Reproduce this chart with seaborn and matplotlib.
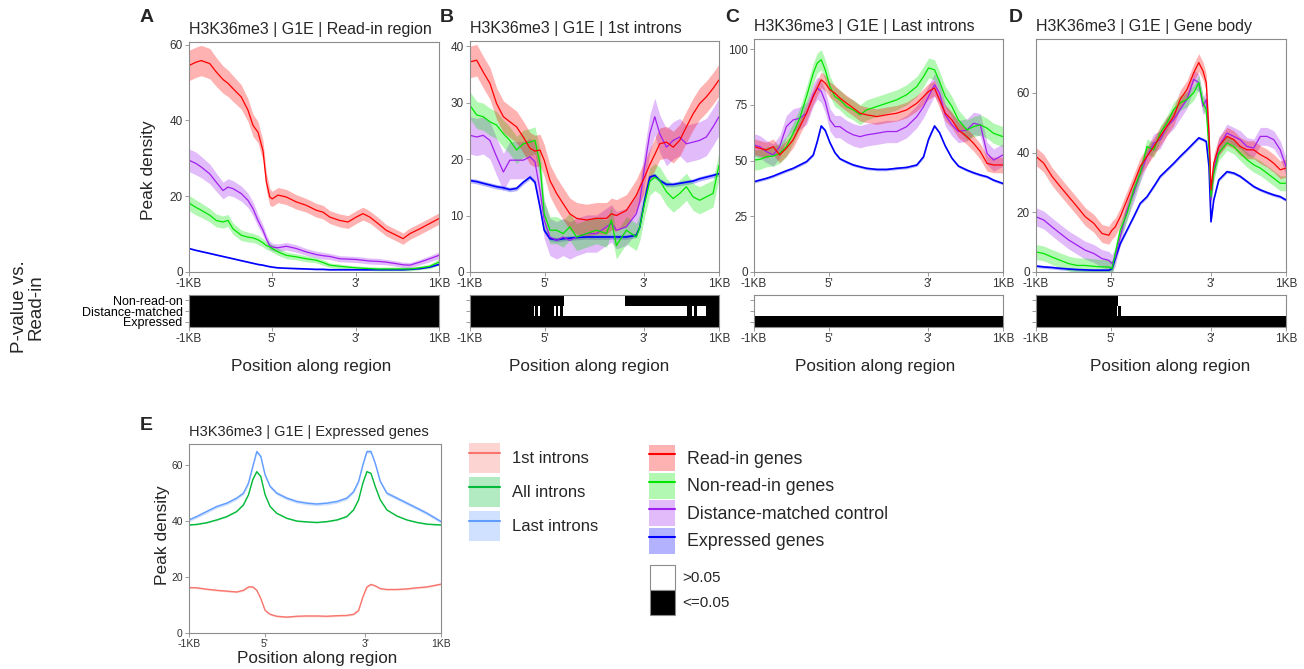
import numpy as np
import pandas as pd
import matplotlib
matplotlib.use('Agg')
import matplotlib.pyplot as plt
import seaborn as sns
from matplotlib.patches import Patch
from matplotlib.lines import Line2D
from matplotlib.legend_handler import HandlerTuple

sns.set_theme(style='white')
plt.rcParams['font.family'] = ['Liberation Sans', 'DejaVu Sans']

# ---- data (x = position along region, 0..100) ----
groups = ['Expressed genes', 'Distance-matched control', 'Non-read-in genes', 'Read-in genes']
group_colors = {'Read-in genes': '#FF0000', 'Non-read-in genes': '#00E600',
                'Distance-matched control': '#A020F0', 'Expressed genes': '#0000FF'}
intron_groups = ['1st introns', 'All introns', 'Last introns']
intron_colors = {'1st introns': '#F8766D', 'All introns': '#00BA38', 'Last introns': '#619CFF'}
tick_labels = ['-1KB', "5'", "3'", '1KB']

# A: read-in region
A_pos = [0, 2.9, 4.9, 8.3, 10.9, 13.6, 15.6, 17.6, 20.9, 23.6, 25.6, 27.6, 29.6, 30.9, 32.3, 33.3, 35.6, 38.9,
         42.9, 46.9, 50.9, 53.6, 56.3, 60.3, 63.6, 66.9, 69.6, 72.3, 75.6, 78.9, 82.9, 85.6, 88.3, 92.3, 96.3, 100]
A_read_in = [54.5, 55.4, 55.8, 55.0, 52.8, 50.8, 49.8, 48.4, 46.2, 42.7, 38.7, 36.9, 32.0, 24.0, 19.8, 19.3, 20.3, 19.8,
             18.5, 17.6, 16.3, 15.8, 14.5, 13.6, 13.2, 14.5, 15.4, 14.5, 12.8, 11.0, 9.7, 8.8, 10.1, 11.4, 12.8, 14.1]
A_non_read_in = [18.2, 17.0, 16.3, 15.0, 13.6, 13.2, 13.6, 11.4, 9.7, 9.2, 9.0, 8.5, 7.7, 7.0, 6.6, 6.2, 5.3, 4.4,
                 4.0, 3.5, 3.1, 2.5, 1.8, 1.5, 1.3, 1.1, 1.0, 0.9, 0.8, 0.8, 0.8, 0.8, 0.8, 1.1, 1.5, 2.6]
A_distance = [29.5, 28.6, 27.7, 25.9, 23.7, 21.5, 22.4, 22.0, 20.7, 18.9, 16.7, 13.6, 11.0, 8.8, 7.0, 6.6, 6.4, 6.8,
              6.2, 5.3, 4.6, 4.3, 4.1, 3.5, 3.4, 3.3, 3.1, 2.9, 2.8, 2.6, 2.2, 1.9, 1.8, 2.6, 3.5, 4.4]
A_expressed = [6.2, 5.7, 5.4, 4.9, 4.5, 4.1, 3.8, 3.5, 3.0, 2.6, 2.3, 2.0, 1.8, 1.6, 1.4, 1.3, 1.1, 1.0,
               0.9, 0.8, 0.7, 0.7, 0.6, 0.6, 0.6, 0.6, 0.6, 0.6, 0.6, 0.6, 0.6, 0.6, 0.7, 0.9, 1.3, 2.0]
A_read_in_band = [4, 4, 4, 4, 3.8, 3.6, 3.5, 3.4, 3.2, 3, 2.9, 2.8, 2.6, 2.4, 2.2, 2, 2, 2,
                  1.9, 1.8, 1.8, 1.8, 1.7, 1.7, 1.7, 1.7, 1.7, 1.6, 1.6, 1.5, 1.5, 1.5, 1.5, 1.5, 1.5, 1.5]
A_non_read_in_band = [2, 2, 1.9, 1.8, 1.7, 1.6, 1.6, 1.5, 1.4, 1.3, 1.2, 1.2, 1.1, 1, 1, 1, 0.9, 0.9,
                      0.8, 0.8, 0.7, 0.7, 0.6, 0.6, 0.5, 0.5, 0.5, 0.5, 0.5, 0.5, 0.5, 0.5, 0.5, 0.5, 0.6, 0.8]
A_distance_band = [3, 3, 2.8, 2.6, 2.4, 2.2, 2.2, 2.1, 2, 1.9, 1.8, 1.6, 1.4, 1.2, 1.1, 1, 1, 1,
                   1, 0.9, 0.9, 0.9, 0.8, 0.8, 0.8, 0.8, 0.8, 0.8, 0.8, 0.7, 0.7, 0.7, 0.7, 0.7, 0.8, 0.9]
A_expressed_band = 0.15

# B: 1st introns
B_pos = [0, 2.7, 5.3, 8.0, 10.7, 13.4, 16.0, 18.7, 21.4, 24.1, 26.1, 28.1, 29.8, 32.1, 34.8, 37.4, 40.1, 42.8, 46.8,
         50.8, 54.8, 56.8, 58.8, 62.8, 66.8, 68.2, 70.1, 72.2, 74.2, 76.2, 78.9, 81.6, 84.2, 86.9, 89.6, 92.2, 94.9, 97.6, 100]
B_read_in = [37.2, 37.5, 35.4, 33.4, 29.8, 27.5, 26.6, 25.7, 23.9, 21.9, 21.4, 21.6, 19.8, 16.2, 13.9, 12.1, 10.3, 9.5, 9.2,
             9.5, 9.5, 10.3, 10.0, 10.9, 13.6, 15.0, 16.8, 19.0, 20.8, 22.7, 23.0, 22.1, 23.3, 25.7, 28.0, 29.8, 31.0, 32.5, 34.0]
B_non_read_in = [29.5, 27.8, 27.5, 26.6, 26.0, 24.5, 23.3, 21.6, 22.7, 23.0, 23.3, 19.2, 10.3, 7.4, 7.4, 6.8, 8.0, 6.2, 6.8,
                 7.4, 6.8, 9.2, 4.7, 7.4, 6.2, 8.0, 12.1, 16.0, 16.8, 16.2, 14.2, 13.0, 13.9, 15.1, 13.3, 12.7, 13.3, 13.9, 18.9]
B_distance = [24.2, 23.9, 24.2, 23.3, 20.4, 17.7, 19.8, 19.8, 19.8, 20.4, 19.5, 14.5, 9.2, 6.2, 5.6, 6.2, 5.6, 6.2, 6.8,
              6.8, 8.0, 8.6, 7.4, 8.0, 10.3, 12.5, 18.6, 24.5, 27.5, 24.5, 22.1, 23.3, 23.9, 22.7, 23.0, 23.3, 23.9, 25.7, 27.5]
B_expressed = [16.2, 16.0, 15.7, 15.4, 15.1, 14.9, 14.6, 14.8, 15.9, 16.8, 15.9, 11.5, 7.4, 5.9, 5.7, 5.9, 6.0, 6.1, 6.2,
               6.2, 6.2, 6.2, 6.2, 6.2, 6.5, 8.0, 12.7, 16.8, 17.1, 16.2, 15.5, 15.5, 15.7, 15.9, 16.1, 16.5, 16.8, 17.1, 17.4]
B_read_in_band = 2.8
B_non_read_in_band = 2.4
B_distance_band = 3.3
B_expressed_band = 0.4

# C: last introns
C_pos = [0, 2.3, 5.0, 7.7, 10.3, 13.0, 15.7, 18.4, 21.1, 23.8, 25.4, 27.0, 28.6, 30.5, 32.5, 34.5, 37.2, 39.9, 42.6,
         45.2, 49.3, 53.3, 57.3, 61.3, 65.4, 68.1, 70.1, 72.5, 74.5, 76.8, 79.5, 82.1, 85.5, 88.2, 90.9, 93.6, 96.2, 100]
C_read_in = [56.2, 55.5, 54.7, 56.2, 52.5, 55.5, 59.2, 65.2, 71.2, 78.7, 82.5, 86.2, 84.7, 81.7, 80.2, 78.0, 75.7, 73.5, 71.2,
             70.5, 69.7, 70.5, 71.2, 72.7, 75.7, 78.7, 81.0, 82.5, 77.2, 71.2, 68.2, 63.7, 60.7, 57.7, 54.0, 48.7, 48.0, 48.0]
C_non_read_in = [50.2, 50.5, 51.7, 52.0, 53.2, 56.2, 62.2, 69.0, 78.7, 89.2, 93.7, 95.2, 90.7, 83.2, 78.7, 77.2, 74.2, 72.7, 70.5,
                 72.7, 74.2, 75.7, 77.2, 79.5, 83.2, 87.7, 91.5, 90.7, 85.5, 78.7, 74.2, 68.2, 63.7, 65.2, 66.0, 64.5, 62.2, 60.7]
C_distance = [57.0, 56.2, 54.0, 52.5, 56.2, 65.2, 68.2, 69.0, 71.2, 79.5, 82.5, 81.0, 76.5, 68.2, 65.2, 65.2, 63.0, 61.5, 60.7,
              61.5, 62.2, 63.0, 63.0, 65.2, 69.7, 74.2, 78.7, 84.0, 80.2, 70.5, 66.0, 63.0, 63.7, 66.7, 66.0, 53.2, 50.2, 52.5]
C_expressed = [40.5, 41.2, 42.0, 43.0, 44.2, 45.4, 46.5, 48.0, 49.5, 52.5, 58.5, 65.5, 63.5, 58.0, 53.5, 50.8, 49.3, 48.0, 47.2,
               46.5, 46.0, 46.0, 46.5, 46.9, 48.0, 51.7, 59.5, 65.5, 62.5, 56.5, 51.0, 47.5, 45.7, 44.5, 43.5, 42.7, 41.2, 39.7]
C_read_in_band = 3.5
C_non_read_in_band = 4.5
C_distance_band = 5.0
C_expressed_band = 0.6

# D: gene body
D_pos = [0, 3.1, 6.4, 9.7, 13.1, 16.4, 19.7, 23.1, 26.4, 29.1, 30.4, 31.7, 33.7, 36.4, 39.1, 41.7, 44.4, 47.1, 49.7, 52.4,
         55.1, 57.7, 60.4, 63.1, 65.1, 66.8, 68.1, 69.2, 70.0, 71.1, 73.1, 76.4, 79.1, 81.7, 84.4, 87.1, 89.7, 92.4, 95.1, 97.7, 100]
D_read_in = [38.7, 36.4, 32.0, 28.6, 25.2, 21.9, 18.5, 16.3, 12.9, 12.3, 14.0, 15.1, 18.5, 24.1, 29.7, 35.3, 38.7, 42.0, 45.4, 48.8,
             52.1, 57.8, 61.1, 66.7, 70.1, 67.3, 63.4, 46.5, 27.5, 36.4, 42.0, 45.4, 44.3, 42.0, 40.9, 40.9, 39.3, 38.1, 36.4, 34.2, 34.8]
D_non_read_in = [6.7, 6.2, 5.0, 3.9, 2.8, 2.2, 2.2, 1.9, 1.7, 1.7, 1.1, 6.2, 14.0, 19.6, 27.5, 33.1, 42.0, 40.9, 46.5, 49.9,
                 54.4, 56.6, 57.8, 60.0, 63.4, 56.6, 54.4, 40.9, 25.2, 33.1, 39.8, 43.2, 42.0, 39.8, 37.6, 35.9, 34.8, 33.1, 31.4, 29.7, 29.7]
D_distance = [18.5, 17.4, 15.1, 12.9, 10.7, 9.0, 7.3, 6.2, 4.5, 3.9, 2.8, 5.0, 11.8, 20.7, 26.4, 33.1, 38.7, 43.2, 44.3, 48.8,
              51.0, 54.4, 57.8, 64.5, 63.4, 55.5, 57.8, 44.3, 24.1, 34.2, 42.0, 46.5, 45.4, 44.3, 42.0, 41.5, 45.4, 45.4, 44.3, 40.9, 35.3]
D_expressed = [2.0, 1.7, 1.5, 1.2, 1.0, 0.8, 0.7, 0.6, 0.6, 0.6, 1.1, 4.5, 9.5, 14.0, 18.5, 23.0, 25.2, 28.6, 32.0, 34.2,
               36.4, 38.7, 40.9, 43.2, 44.9, 44.3, 43.7, 35.3, 16.8, 24.1, 30.8, 33.6, 33.1, 32.0, 30.3, 28.6, 27.5, 26.6, 25.8, 25.2, 24.1]
D_read_in_band = 3.0
D_non_read_in_band = 2.5
D_distance_band = 3.0
D_expressed_band = 0.5

# E: expressed genes, intron classes
E_pos = [0, 3.0, 7.0, 11.0, 15.0, 18.9, 21.6, 23.6, 25.3, 26.9, 28.5, 30.2, 32.2, 34.8, 38.8, 42.8, 46.8, 50.7, 54.7,
         58.7, 62.6, 65.3, 67.3, 69.0, 70.6, 72.2, 73.9, 75.9, 78.5, 82.5, 86.5, 90.5, 94.4, 100]
E_first = [16.3, 16.2, 15.7, 15.3, 15.0, 14.7, 15.3, 16.5, 16.5, 15.3, 12.3, 8.1, 6.7, 6.0, 5.7, 6.0, 6.1, 6.1, 6.0,
           6.2, 6.3, 6.7, 8.1, 12.9, 16.5, 17.4, 16.9, 15.9, 15.6, 15.6, 15.8, 16.2, 16.5, 17.5]
E_all = [38.7, 38.9, 39.5, 40.5, 41.7, 43.5, 45.9, 49.5, 54.9, 57.8, 56.0, 49.5, 45.3, 42.9, 41.1, 40.1, 39.8, 39.6, 39.9,
         40.5, 41.7, 44.1, 47.7, 53.7, 57.8, 57.2, 52.5, 47.7, 44.1, 41.9, 40.5, 39.6, 39.0, 38.7]
E_last = [40.5, 41.7, 43.5, 45.3, 46.5, 48.3, 50.1, 53.7, 59.6, 65.0, 63.2, 56.6, 52.5, 50.1, 48.3, 47.1, 46.5, 46.2, 46.5,
          47.1, 48.3, 50.6, 54.3, 60.2, 65.0, 65.0, 60.8, 54.3, 50.1, 48.3, 46.5, 44.7, 42.9, 39.9]
E_first_band = 0.3
E_all_band = 0.2
E_last_band = 0.6

# p-value strips: black (<=0.05) intervals, rows = Non-read-on, Distance-matched, Expressed
A_sig = [[(0, 100)], [(0, 100)], [(0, 100)]]
B_sig = [[(0, 37.7), (62.3, 100)],
         [(0, 25.6), (26.3, 27.3), (28.3, 33.7), (34.6, 35.3), (36.3, 37.2), (87.3, 89.3), (90.0, 91.0), (94.7, 100)],
         [(0, 100)]]
C_sig = [[], [], [(0, 100)]]
D_sig = [[(0, 32.7)], [(0, 32.5), (32.9, 33.8)], [(0, 100)]]
strip_rows = ['Non-read-on', 'Distance-matched', 'Expressed']

# ---- layout ----
W, H = 1304, 669
fig = plt.figure(figsize=(W / 100, H / 100), dpi=100)


def px_axes(x0, y0, x1, y1):
    return fig.add_axes([x0 / W, 1 - y1 / H, (x1 - x0) / W, (y1 - y0) / H])


def style(ax):
    for s in ax.spines.values():
        s.set_visible(True)
        s.set_color('#8c8c8c')
        s.set_linewidth(0.8)
    ax.tick_params(axis='both', bottom=True, left=True, length=3, width=0.6, color='#8c8c8c',
                   labelsize=8.5, labelcolor='#333333', pad=1.5)
    ax.set_xlabel('')
    ax.set_ylabel('')


def draw_panel(ax, pos, series, bands, names, colors, widths, ylim, yticks, xticks):
    df = pd.concat([pd.DataFrame({'pos': pos, 'density': v, 'group': n}) for n, v in zip(names, series)])
    for n, v, b in zip(names, series, bands):
        v = np.asarray(v, float)
        b = np.broadcast_to(np.asarray(b, float), v.shape)
        ax.fill_between(pos, v - b, v + b, color=colors[n], alpha=0.3, lw=0)
    sns.lineplot(data=df, x='pos', y='density', hue='group', hue_order=names, palette=colors,
                 estimator=None, sort=False, legend=False, ax=ax)
    for line, n in zip(ax.lines, names):
        line.set_linewidth(widths[n])
    ax.set_xlim(0, 100)
    ax.set_ylim(*ylim)
    ax.set_yticks(yticks)
    ax.set_xticks(xticks)
    ax.set_xticklabels(tick_labels)
    style(ax)


def draw_strip(ax, rows, xticks, labels):
    for i, intervals in enumerate(rows):
        if intervals:
            ax.broken_barh([(a, b - a) for a, b in intervals], (2 - i, 1), facecolors='black',
                           edgecolor='none', linewidth=0, antialiased=False)
    ax.set_xlim(0, 100)
    ax.set_ylim(0, 3)
    ax.set_yticks([2.5, 1.5, 0.5])
    ax.set_yticklabels(strip_rows if labels else [])
    ax.set_xticks(xticks)
    ax.set_xticklabels(tick_labels)
    style(ax)
    ax.tick_params(axis='y', labelsize=9, labelcolor='black')


widths = {'Read-in genes': 0.9, 'Non-read-in genes': 0.9, 'Distance-matched control': 0.9, 'Expressed genes': 1.2}
panels = [
    ('A', 'Read-in region', (189, 42, 439, 272), [A_read_in, A_non_read_in, A_distance, A_expressed],
     [A_read_in_band, A_non_read_in_band, A_distance_band, A_expressed_band], A_pos, (0, 60.7), [0, 20, 40, 60],
     [0, 33.3, 66.7, 100], A_sig, 147, 311),
    ('B', '1st introns', (470, 41, 719, 272), [B_read_in, B_non_read_in, B_distance, B_expressed],
     [B_read_in_band, B_non_read_in_band, B_distance_band, B_expressed_band], B_pos, (0, 40.9), [0, 10, 20, 30, 40],
     [0, 30, 70, 100], B_sig, 447, 589),
    ('C', 'Last introns', (754, 39, 1003, 272), [C_read_in, C_non_read_in, C_distance, C_expressed],
     [C_read_in_band, C_non_read_in_band, C_distance_band, C_expressed_band], C_pos, (0, 104.5), [0, 25, 50, 75, 100],
     [0, 30, 70, 100], C_sig, 732, 875),
    ('D', 'Gene body', (1036, 39, 1286, 272), [D_read_in, D_non_read_in, D_distance, D_expressed],
     [D_read_in_band, D_non_read_in_band, D_distance_band, D_expressed_band], D_pos, (0, 78), [0, 20, 40, 60],
     [0, 30, 70, 100], D_sig, 1016, 1170),
]
order = ['Read-in genes', 'Non-read-in genes', 'Distance-matched control', 'Expressed genes']

for letter, name, (x0, y0, x1, y1), series, bands, pos, ylim, yticks, xticks, sig, lx, xl in panels:
    ax = px_axes(x0, y0, x1, y1)
    # draw expressed first so read-in ends up on top
    idx = [order.index(g) for g in groups]
    draw_panel(ax, pos, [series[i] for i in idx], [bands[i] for i in idx], groups, group_colors, widths,
               ylim, yticks, xticks)
    ax.set_title('H3K36me3 | G1E | ' + name, loc='left', fontsize=11.5, pad=6)
    fig.text(lx / W, 1 - 17 / H, letter, fontsize=14, fontweight='bold', ha='center', va='center')
    sax = px_axes(x0, 295, x1, 327)
    draw_strip(sax, sig, xticks, letter == 'A')
    fig.text(xl / W, 1 - 367 / H, 'Position along region', fontsize=12.3, ha='center', va='center')

fig.text(148 / W, 1 - 170 / H, 'Peak density', fontsize=12.5, rotation=90, ha='center', va='center')
fig.text(28 / W, 1 - 307 / H, 'P-value vs.\nRead-in', fontsize=13.5, rotation=90, ha='center', va='center',
         linespacing=1.0)

# E panel
axE = px_axes(189, 444, 441, 633)
draw_panel(axE, E_pos, [E_first, E_all, E_last], [E_first_band, E_all_band, E_last_band], intron_groups,
           intron_colors, {g: 1.0 for g in intron_groups}, (0, 67.7), [0, 20, 40, 60], [0, 30, 70, 100])
axE.tick_params(labelsize=7.5)
axE.set_title('H3K36me3 | G1E | Expressed genes', loc='left', fontsize=10.5, pad=6)
fig.text(146 / W, 1 - 426 / H, 'E', fontsize=14, fontweight='bold', ha='center', va='center')
fig.text(162 / W, 1 - 535 / H, 'Peak density', fontsize=12.5, rotation=90, ha='center', va='center')
fig.text(317 / W, 1 - 658 / H, 'Position along region', fontsize=12.3, ha='center', va='center')

# legends (legend key height in pt = fs * (0.65 * handleheight + 0.245))
tup = {tuple: HandlerTuple(ndivide=1, pad=0)}
h1 = [(Patch(facecolor=intron_colors[g], alpha=0.3, lw=0), Line2D([], [], color=intron_colors[g], lw=1.5))
      for g in intron_groups]
fig.legend(h1, intron_groups, handler_map=tup,
           loc='upper left', bbox_to_anchor=(469 / W, 1 - 443 / H), frameon=False, fontsize=12,
           handlelength=1.86, handleheight=2.39, labelspacing=0.24, handletextpad=0.72,
           borderpad=0, borderaxespad=0)

h2 = [(Patch(facecolor=group_colors[g], alpha=0.3, lw=0), Line2D([], [], color=group_colors[g], lw=1.5))
      for g in order]
fig.legend(h2, order, handler_map=tup,
           loc='upper left', bbox_to_anchor=(649 / W, 1 - 445 / H), frameon=False, fontsize=12.8,
           handlelength=1.46, handleheight=1.87, labelspacing=0.09, handletextpad=0.7,
           borderpad=0, borderaxespad=0)

h3 = [Patch(facecolor='white', edgecolor='#8c8c8c', lw=0.8), Patch(facecolor='black', edgecolor='#8c8c8c', lw=0.8)]
fig.legend(h3, ['>0.05', '<=0.05'], loc='upper left', bbox_to_anchor=(650 / W, 1 - 565 / H), frameon=False,
           fontsize=11, handlelength=1.64, handleheight=2.14, labelspacing=0, handletextpad=0.5,
           borderpad=0, borderaxespad=0)

fig.savefig('out.png', dpi=100)
